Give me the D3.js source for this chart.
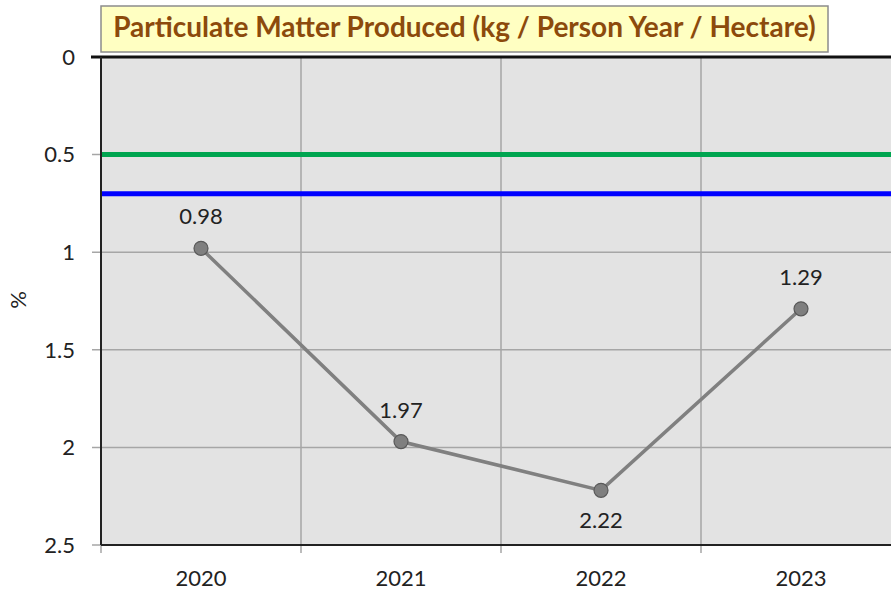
<!DOCTYPE html>
<html><head><meta charset="utf-8">
<script src="https://cdn.jsdelivr.net/npm/d3@7"></script>
<style>body{margin:0;background:#fff;} svg{display:block;font-family:Lato,"Open Sans",sans-serif;}</style>
</head><body>
<svg id="c" width="891" height="595"></svg>
<script>
const years = ["2020","2021","2022","2023"];
const values = [0.98,1.97,2.22,1.29];
const labelPos = ["above","above","below","above"];
const yTicks = [0,0.5,1,1.5,2,2.5];
const refLines = [{v:0.5,color:"#00a550"},{v:0.7,color:"#0000ff"}];
const titleText = "Particulate Matter Produced (kg / Person Year / Hectare)";
const yLabel = "%";

const svg = d3.select("#c");
const L=101, T=57, W=800, H=488;
const x = d3.scaleBand().domain(years).range([L, L+W]);
const y = d3.scaleLinear().domain([0,2.5]).range([T, T+H]);

svg.append("rect").attr("x",L).attr("y",T).attr("width",W).attr("height",H).attr("fill","#e3e3e3");

// horizontal gridlines
svg.append("g").selectAll("line").data(yTicks).join("line")
  .attr("x1",L-9).attr("x2",L+W).attr("y1",d=>y(d)).attr("y2",d=>y(d))
  .attr("stroke","#a6a6a6").attr("stroke-width",1.5);
// vertical gridlines
svg.append("g").selectAll("line").data(years).join("line")
  .attr("x1",d=>x(d)).attr("x2",d=>x(d)).attr("y1",T).attr("y2",T+H+8)
  .attr("stroke","#a6a6a6").attr("stroke-width",1.5);

// ref lines
svg.append("g").selectAll("line").data(refLines).join("line")
  .attr("x1",L).attr("x2",L+W).attr("y1",d=>y(d.v)).attr("y2",d=>y(d.v))
  .attr("stroke",d=>d.color).attr("stroke-width",5);

// borders
svg.append("line").attr("x1",L-10).attr("x2",L+W).attr("y1",T).attr("y2",T).attr("stroke","#111").attr("stroke-width",3);
svg.append("line").attr("x1",L).attr("x2",L).attr("y1",T).attr("y2",T+H).attr("stroke","#222").attr("stroke-width",2);
svg.append("line").attr("x1",L).attr("x2",L+W).attr("y1",T+H).attr("y2",T+H).attr("stroke","#222").attr("stroke-width",2);

// y tick labels
svg.append("g").selectAll("text").data(yTicks).join("text")
  .attr("x",75).attr("y",d=>y(d)).attr("dy","0.35em").attr("text-anchor","end")
  .attr("font-size",22).attr("fill","#222").text(d=>d);
// x labels
svg.append("g").selectAll("text").data(years).join("text")
  .attr("x",d=>x(d)+x.bandwidth()/2).attr("y",586).attr("text-anchor","middle")
  .attr("font-size",22).attr("fill","#222").text(d=>d);
// y label
svg.append("text").attr("transform","translate(26,300) rotate(-90)").attr("text-anchor","middle")
  .attr("font-size",22).attr("fill","#222").text(yLabel);

// line
const cx = (d,i)=>x(years[i])+x.bandwidth()/2;
const line = d3.line().x((d,i)=>cx(d,i)).y(d=>y(d));
svg.append("path").datum(values).attr("d",line).attr("fill","none").attr("stroke","#808080").attr("stroke-width",3.5);
svg.append("g").selectAll("circle").data(values).join("circle")
  .attr("cx",cx).attr("cy",d=>y(d)).attr("r",7).attr("fill","#7f7f7f").attr("stroke","#595959").attr("stroke-width",1.2);
svg.append("g").selectAll("text").data(values).join("text")
  .attr("x",cx).attr("y",(d,i)=>labelPos[i]==="above"? y(d)-24 : y(d)+38)
  .attr("text-anchor","middle").attr("font-size",22).attr("fill","#222").text(d=>d.toFixed(2));

// title
const tg = svg.append("g");
tg.append("rect").attr("x",101).attr("y",6).attr("width",727).attr("height",46)
  .attr("fill","#ffffc2").attr("stroke","#8c8c8c").attr("stroke-width",1.5);
const tt = tg.append("text").attr("x",464.5).attr("y",37).attr("text-anchor","middle")
  .attr("font-size",21).attr("font-weight","bold").attr("fill","#8c4a0c").text(titleText);
const len = tt.node().getComputedTextLength();
if (len>0) tt.attr("font-size", 21*703/len);
</script>
</body></html>
